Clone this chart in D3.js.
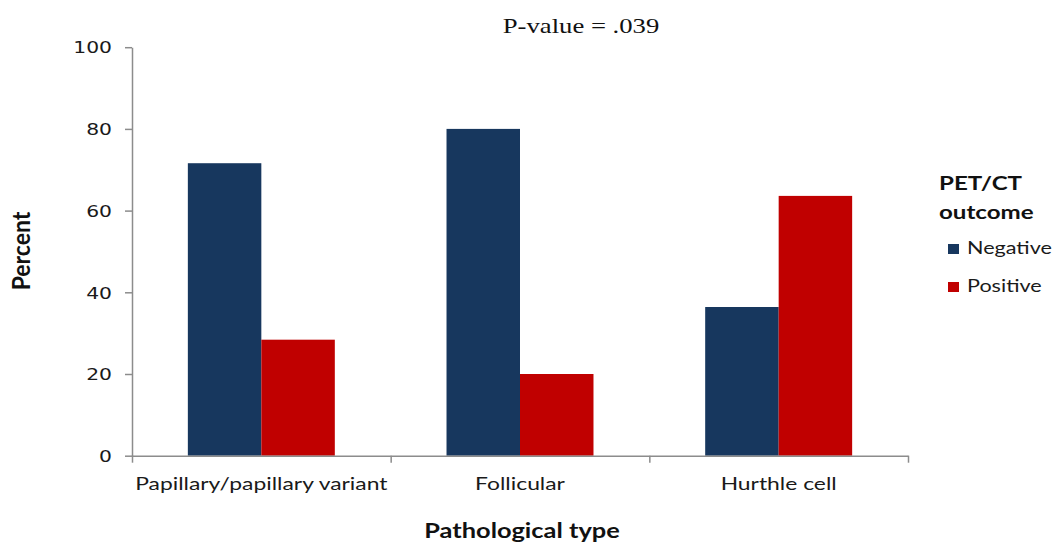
<!DOCTYPE html>
<html>
<head>
<meta charset="utf-8">
<script src="https://cdn.jsdelivr.net/npm/d3@7"></script>
<style>
  html, body { margin: 0; padding: 0; background: #fff; }
  svg { display: block; }
</style>
</head>
<body>
<svg id="chart" width="1056" height="542"></svg>
<script>
// ---- data ----
const categories = ["Papillary/papillary variant", "Follicular", "Hurthle cell"];
const seriesNames = ["Negative", "Positive"];
const negativeValues = [71.6, 80.0, 36.4];
const positiveValues = [28.4, 20.0, 63.6];
const yTicks = [0, 20, 40, 60, 80, 100];
const titleText = "P-value = .039";
const yLabel = "Percent";
const xLabel = "Pathological type";
const legendTitle = ["PET/CT", "outcome"];

// ---- styles ----
const colors = { Negative: "#17375E", Positive: "#C00000" };
const axisColor = "#8c8c8c";
const SX = 1.27; // horizontal stretch of the original image's text
const sansFont = "Lato, 'Open Sans', sans-serif";

const svg = d3.select("#chart");
const plotLeft = 132, plotRight = 908, plotTop = 47.2, plotBottom = 455.7;

const x0 = d3.scaleBand().domain(categories).range([plotLeft, plotRight]).paddingInner(0).paddingOuter(0);
const x1 = d3.scaleBand().domain(seriesNames).range([0, x0.bandwidth()]).paddingInner(0).paddingOuter(0.76);
const y = d3.scaleLinear().domain([0, 100]).range([plotBottom, plotTop]);
const xb = d3.scaleLinear().domain([0, categories.length]).range([plotLeft, plotRight]);

const rows = categories.map((c, i) => ({ cat: c, Negative: negativeValues[i], Positive: positiveValues[i] }));

// bars
const groups = svg.append("g").selectAll("g").data(rows).join("g")
  .attr("transform", d => `translate(${x0(d.cat)},0)`);
groups.selectAll("rect")
  .data(d => seriesNames.map(s => ({ s, v: d[s] })))
  .join("rect")
  .attr("x", d => x1(d.s))
  .attr("width", x1.bandwidth())
  .attr("y", d => y(d.v))
  .attr("height", d => y(0) - y(d.v))
  .attr("fill", d => colors[d.s]);

// y axis
const yAxis = svg.append("g").attr("transform", `translate(${plotLeft},0)`)
  .call(d3.axisLeft(y).tickValues(yTicks).tickSize(7).tickSizeOuter(0).tickPadding(13));
yAxis.select(".domain").attr("stroke", axisColor).attr("stroke-width", 1.5);
yAxis.selectAll(".tick line").attr("stroke", axisColor).attr("stroke-width", 1.5);
yAxis.selectAll(".tick text")
  .attr("font-family", "'DejaVu Sans', Verdana, sans-serif")
  .attr("font-size", 16)
  .attr("fill", "#1a1a1a")
  .attr("dy", "0.36em")
  .attr("transform", function() { const xx = +d3.select(this).attr("x"); return `translate(${xx*(1-SX)},0) scale(${SX},1)`; });

// x axis (ticks at category boundaries)
const xAxis = svg.append("g").attr("transform", `translate(0,${plotBottom})`)
  .call(d3.axisBottom(xb).tickValues(d3.range(categories.length + 1)).tickFormat("").tickSize(7).tickSizeOuter(0));
xAxis.select(".domain").attr("stroke", axisColor).attr("stroke-width", 1.5);
xAxis.selectAll(".tick line").attr("stroke", axisColor).attr("stroke-width", 1.5);

// category labels
svg.append("g").selectAll("text").data(categories).join("text")
  .attr("transform", d => `translate(${x0(d) + x0.bandwidth() / 2},490) scale(${SX},1)`)
  .attr("text-anchor", "middle")
  .attr("font-family", sansFont)
  .attr("font-size", 18)
  .attr("fill", "#1a1a1a")
  .text(d => d);

// title
svg.append("text")
  .attr("transform", `translate(581,33) scale(${SX},1)`)
  .attr("text-anchor", "middle")
  .attr("font-family", "'Liberation Serif', 'Times New Roman', serif")
  .attr("font-size", 21)
  .attr("fill", "#111")
  .text(titleText);

// axis titles
svg.append("text")
  .attr("transform", `translate(522,538) scale(${SX},1)`)
  .attr("text-anchor", "middle")
  .attr("font-family", sansFont)
  .attr("font-weight", "bold")
  .attr("font-size", 20)
  .attr("fill", "#111")
  .text(xLabel);

svg.append("text")
  .attr("transform", `translate(30,251) rotate(-90) scale(1,1.1)`)
  .attr("text-anchor", "middle")
  .attr("font-family", sansFont)
  .attr("font-weight", "bold")
  .attr("font-size", 23)
  .attr("fill", "#111")
  .text(yLabel);

// legend
const legend = svg.append("g");
legend.selectAll("text.lt").data(legendTitle).join("text")
  .attr("class", "lt")
  .attr("transform", (d, i) => `translate(939,${190 + i * 29}) scale(${SX},1)`)
  .attr("font-family", sansFont)
  .attr("font-weight", "bold")
  .attr("font-size", 19)
  .attr("fill", "#111")
  .text(d => d);

const items = legend.selectAll("g.item").data(seriesNames).join("g")
  .attr("class", "item")
  .attr("transform", (d, i) => `translate(948,${244 + i * 38})`);
items.append("rect").attr("width", 11).attr("height", 10).attr("fill", d => colors[d]);
items.append("text")
  .attr("transform", `translate(19,10) scale(${SX},1)`)
  .attr("font-family", sansFont)
  .attr("font-size", 17)
  .attr("fill", "#1a1a1a")
  .text(d => d);
</script>
</body>
</html>
